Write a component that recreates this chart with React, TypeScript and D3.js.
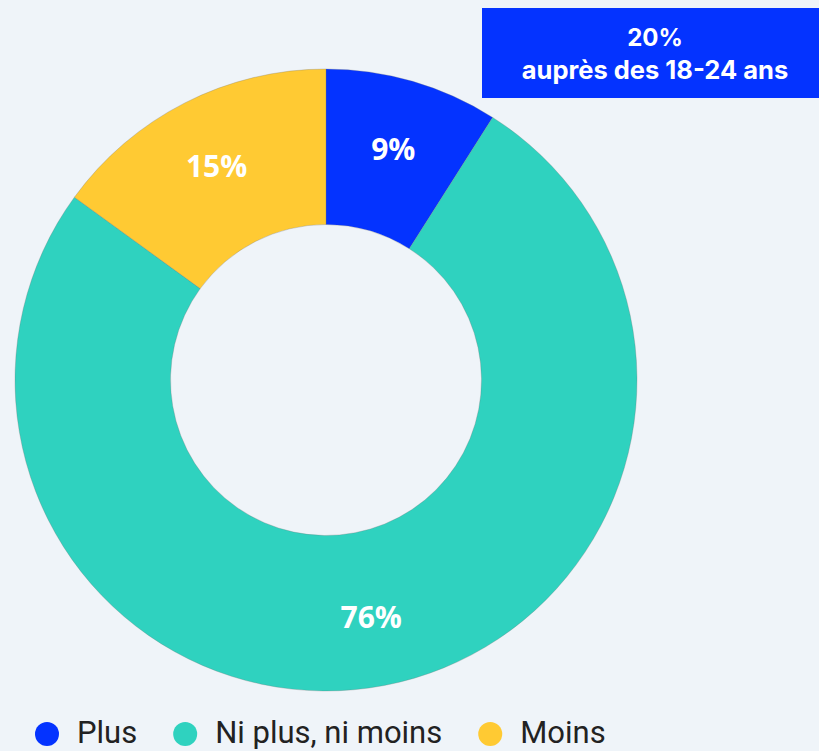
import React, { useEffect, useRef } from "react";
import * as d3 from "d3";

const categories = ["Plus", "Ni plus, ni moins", "Moins"];
const values = [9, 76, 15];
const valueLabels = ["9%", "76%", "15%"];
const colors = ["#0433FF", "#2FD2BF", "#FFCA33"];
const calloutLines = ["20%", "auprès des 18-24 ans"];

const W = 819;
const H = 751;

export default function App() {
  const ref = useRef<SVGSVGElement>(null);

  useEffect(() => {
    const svg = d3.select(ref.current);
    svg.selectAll("*").remove();

    svg.append("rect").attr("width", W).attr("height", H).attr("fill", "#EFF4F9");

    const cx = 326;
    const cy = 380;
    const outerR = 311;
    const innerR = 155.5;

    const pie = d3.pie<number>().sort(null).value((d) => d);
    const arcs = pie(values);
    const arc = d3.arc<d3.PieArcDatum<number>>().innerRadius(innerR).outerRadius(outerR);
    const labelArc = d3.arc<d3.PieArcDatum<number>>().innerRadius(241).outerRadius(241);

    const g = svg.append("g").attr("transform", `translate(${cx},${cy})`);
    g.selectAll("path.slice")
      .data(arcs)
      .join("path")
      .attr("class", "slice")
      .attr("d", arc)
      .attr("fill", (_, i) => colors[i])
      .attr("stroke", "rgba(110,110,110,0.35)")
      .attr("stroke-width", 0.8);

    g.selectAll("text.val")
      .data(arcs)
      .join("text")
      .attr("class", "val")
      .attr("transform", (d) => {
        const [x, y] = labelArc.centroid(d);
        return `translate(${x},${y})`;
      })
      .attr("text-anchor", "middle")
      .attr("dy", "0.38em")
      .attr("fill", "#fff")
      .attr("font-family", "'Open Sans', sans-serif")
      .attr("font-weight", 700)
      .attr("font-size", 30)
      .text((_, i) => valueLabels[i]);

    // callout box
    const box = svg.append("g");
    box.append("rect").attr("x", 482).attr("y", 8).attr("width", 346).attr("height", 90).attr("fill", "#0433FF");
    box
      .selectAll("text")
      .data(calloutLines)
      .join("text")
      .attr("x", 655)
      .attr("y", (_, i) => 46 + i * 33)
      .attr("text-anchor", "middle")
      .attr("fill", "#fff")
      .attr("font-family", "Inter, sans-serif")
      .attr("font-weight", 700)
      .attr("font-size", (_, i) => (i === 0 ? 24 : 25.5))
      .text((d) => d);

    // legend
    const leg = svg.append("g");
    let x = 35;
    categories.forEach((c, i) => {
      leg.append("circle").attr("cx", x + 12).attr("cy", 734).attr("r", 12).attr("fill", colors[i]);
      const t = leg
        .append("text")
        .attr("x", x + 42)
        .attr("y", 743)
        .attr("fill", "#222")
        .attr("font-family", "Roboto, sans-serif")
        .attr("font-size", 31)
        .text(c);
      const w = (t.node() as SVGTextElement).getComputedTextLength();
      x = x + 42 + w + 36;
    });
  }, []);

  return (
    <div style={{ position: "fixed", left: 0, top: 0, width: W, height: H, background: "#EFF4F9" }}>
      <svg ref={ref} width={W} height={H} style={{ display: "block" }} />
    </div>
  );
}
